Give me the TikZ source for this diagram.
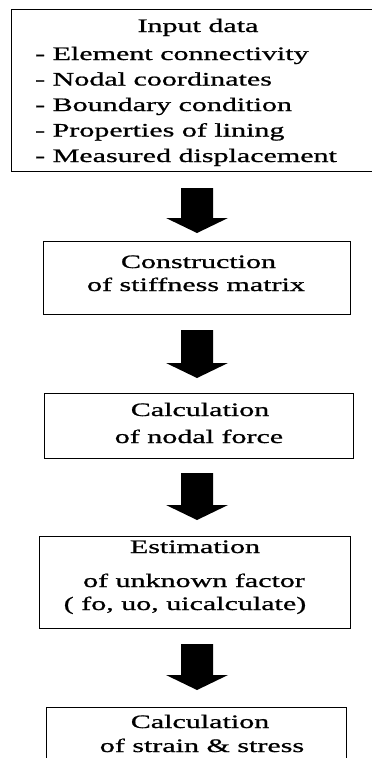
\documentclass[tikz,border=0pt]{standalone}
\usepackage{fontspec}
\setmainfont{Liberation Serif}[FakeStretch=1.58,FakeBold=0.9]
\newcommand\barrow[2]{\fill[shift={(#1)}] (-16,0) -- (16,0) -- (16,#2) -- (31,#2) -- (0,#2+15) -- (-31,#2) -- (-16,#2) -- cycle;}
\begin{document}
\begin{tikzpicture}[x=1pt,y=-1pt,
  box/.style={draw, line width=1pt, inner sep=0pt},
  txt/.style={inner sep=0pt, font=\fontsize{19}{22}\selectfont}]
\useasboundingbox (0,0) rectangle (372,758);
\clip (0,0) rectangle (372,758);
% boxes
\node[inner sep=0pt, minimum width=380pt, minimum height=161pt] (b1) at (202,90.5) {};
\draw[line width=1pt] (b1.north east) -- (b1.north west) -- (b1.south west) -- (b1.south east);
\node[box, minimum width=307pt, minimum height=73pt] (b2) at (196.5,277.5) {};
\node[box, minimum width=309pt, minimum height=65pt] (b3) at (198.5,425.5) {};
\node[box, minimum width=311pt, minimum height=92pt] (b4) at (194.5,582) {};
\node[box, minimum width=300pt, minimum height=70pt] (b5) at (196,742) {};
% texts
\node[txt, anchor=base] (t1) at (198,32) {Input data};
\node[txt, anchor=base west] (t1a) at (35,60) {- Element connectivity};
\node[txt, anchor=base west] (t1b) at (35,85.5) {- Nodal coordinates};
\node[txt, anchor=base west] (t1c) at (35,111) {- Boundary condition};
\node[txt, anchor=base west] (t1d) at (35,136.5) {- Properties of lining};
\node[txt, anchor=base west] (t1e) at (35,162) {- Measured displacement};
\node[txt, anchor=base] (t2a) at (198.5,268) {Construction};
\node[txt, anchor=base] (t2b) at (196,291) {of stiffness matrix};
\node[txt, anchor=base] (t3a) at (200,416) {Calculation};
\node[txt, anchor=base] (t3b) at (199,443) {of nodal force};
\node[txt, anchor=base] (t4a) at (195,553) {Estimation};
\node[txt, anchor=base] (t4b) at (194,587) {of unknown factor};
\node[txt, anchor=base] (t4c) at (185,610) {( fo, uo, uicalculate)};
\node[txt, anchor=base] (t5a) at (200,728) {Calculation};
\node[txt, anchor=base] (t5b) at (202,752) {of strain \& stress};
% arrows
\coordinate (a1) at (197,188);
\coordinate (a2) at (197,330);
\coordinate (a3) at (197,473);
\coordinate (a4) at (197,644);
\barrow{a1}{30}
\barrow{a2}{33}
\barrow{a3}{32}
\barrow{a4}{31}
\end{tikzpicture}
\end{document}
